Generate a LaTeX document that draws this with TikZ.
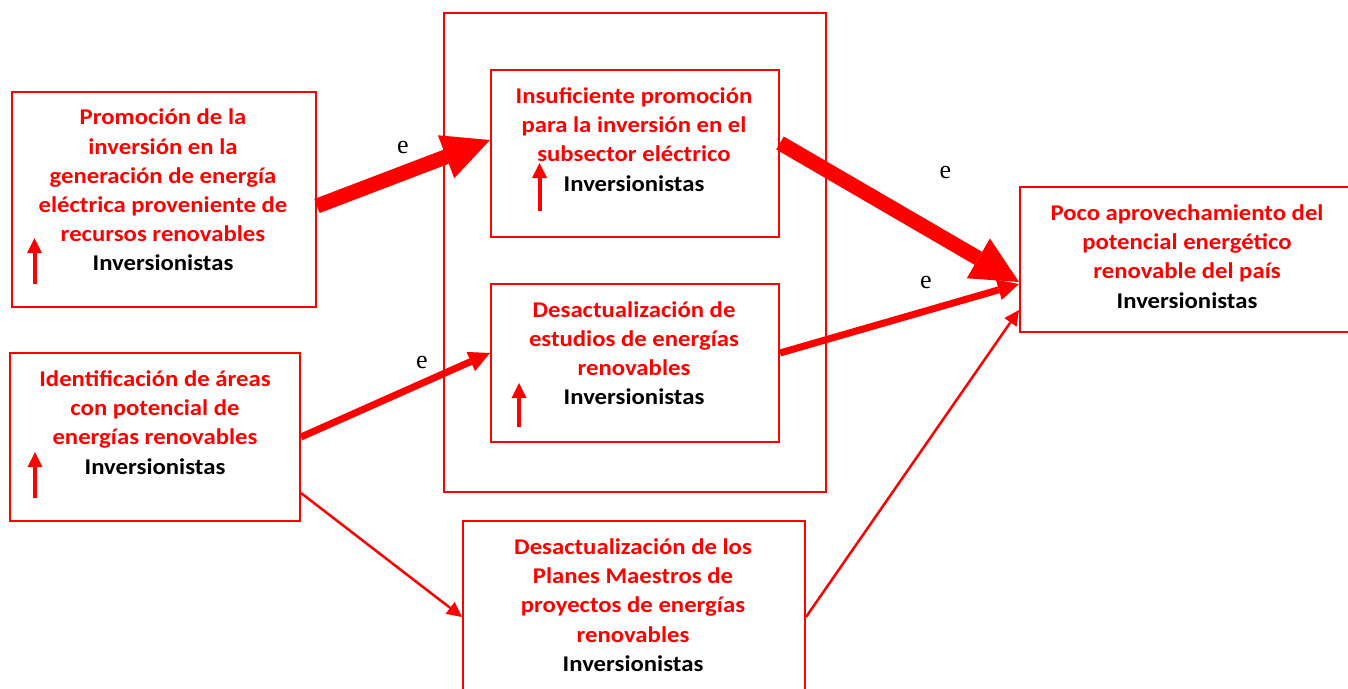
\documentclass[tikz,border=0pt]{standalone}
\usepackage{fontspec}
\setmainfont{Carlito}[FakeStretch=1.1]
\newfontfamily\eserif{Liberation Serif}
\usetikzlibrary{arrows.meta}
\definecolor{cred}{RGB}{255,0,0}
\begin{document}
\begin{tikzpicture}[x=1pt,y=-1pt,
  box/.style={draw=cred,line width=2pt,inner sep=0pt,anchor=north west},
  txt/.style={align=center,font=\fontsize{22.5}{29.2}\selectfont\bfseries,text=cred,inner sep=0pt},
  elab/.style={font=\eserif\fontsize{26}{30}\selectfont,anchor=base,inner sep=0pt},
  thickarrow/.style={draw=cred,line width=15pt,-{Triangle[length=47pt,width=46pt,line width=0pt]}},
  midarrow/.style={draw=cred,line width=7pt,-{Triangle[length=21pt,width=21pt,line width=0pt]}},
  thinarrow/.style={draw=cred,line width=2.5pt,-{Triangle[length=15pt,width=15pt,line width=0pt]}},
  uparrow/.style={draw=cred,line width=4pt,-{Triangle[length=15pt,width=15pt,line width=0pt]}}]
\clip (0,0) rectangle (1348,688);
\fill[white] (0,0) rectangle (1348,688);
% boxes
\node[box,minimum width=382pt,minimum height=479pt] (outer) at (443,12) {};
\node[box,minimum width=304pt,minimum height=215pt] (b1) at (11,91) {};
\node[box,minimum width=288pt,minimum height=167pt] (b3) at (490,69) {};
\node[box,minimum width=288pt,minimum height=158pt] (b4) at (490,283) {};
\node[box,minimum width=290pt,minimum height=168pt] (b5) at (9,352) {};
\node[box,minimum width=342pt,minimum height=192pt] (b6) at (462,520) {};
\node[box,minimum width=345pt,minimum height=145pt] (b7) at (1019,186) {};
% texts
\node[txt] (t1) at (163,190) {Promoción de la\\inversión en la\\generación de energía\\eléctrica proveniente de\\recursos renovables\\\textcolor{black}{Inversionistas}};
\node[txt] (t3) at (634,139.5) {Insuficiente promoción\\para la inversión en el\\subsector eléctrico\\\textcolor{black}{Inversionistas}};
\node[txt] (t4) at (634,353) {Desactualización de\\estudios de energías\\renovables\\\textcolor{black}{Inversionistas}};
\node[txt] (t5) at (155,422.5) {Identificación de áreas\\con potencial de\\energías renovables\\\textcolor{black}{Inversionistas}};
\node[txt] (t6) at (633,605) {Desactualización de los\\Planes Maestros de\\proyectos de energías\\renovables\\\textcolor{black}{Inversionistas}};
\node[txt] (t7) at (1187,256.5) {Poco aprovechamiento del\\potencial energético\\renovable del país\\\textcolor{black}{Inversionistas}};
% small up arrows
\draw[uparrow] (34.5,284) -- (34.5,238);
\draw[uparrow] (539.5,211) -- (539.5,163);
\draw[uparrow] (519,427) -- (519,383);
\draw[uparrow] (35,498) -- (35,452);
% connectors
\draw[thickarrow] ([yshift=-6.5pt]b1.east) -- ([yshift=13.5pt]b3.west);
\draw[thickarrow] ([yshift=10.5pt]b3.east) -- ([yshift=-22.5pt]b7.west);
\draw[midarrow] (b5.east) -- ([yshift=10pt]b4.west);
\draw[midarrow] ([yshift=10pt]b4.east) -- ([yshift=-24.5pt]b7.west);
\draw[thinarrow] ([yshift=-56pt]b5.east) -- (b6.west);
\draw[thinarrow] (b6.east) -- ([yshift=-50.5pt]b7.west);
% labels
\node[elab] (e1) at (403,153) {e};
\node[elab] (e2) at (945.5,178) {e};
\node[elab] (e3) at (926,288) {e};
\node[elab] (e4) at (422,368) {e};
\end{tikzpicture}
\end{document}
